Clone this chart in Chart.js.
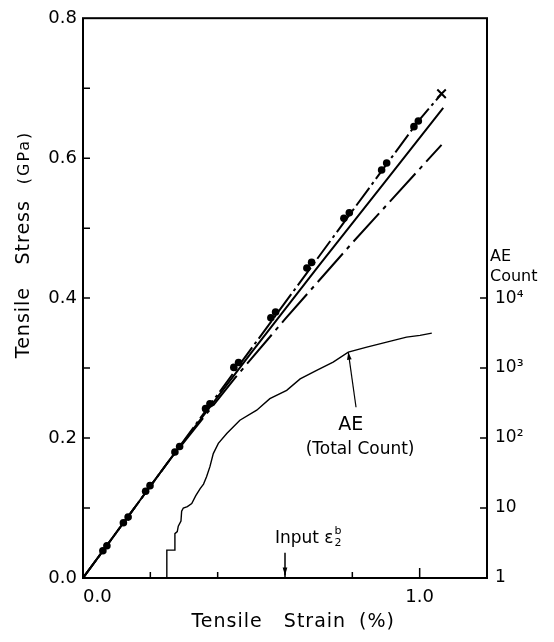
<!DOCTYPE html>
<html>
<head>
<meta charset="utf-8">
<script src="https://cdn.jsdelivr.net/npm/chart.js@4.4.1/dist/chart.umd.min.js"></script>
<style>
  html, body { margin: 0; padding: 0; background: #fff; }
  canvas { display: block; }
</style>
</head>
<body>
<canvas id="chart" width="554" height="642"></canvas>
<script>
// Strain in %, stress in GPa, AE in counts
const dotStrain = [0.059, 0.071, 0.120, 0.134, 0.186, 0.199, 0.273, 0.287, 0.364, 0.377, 0.448, 0.462,
                   0.558, 0.572, 0.665, 0.679, 0.775, 0.791, 0.887, 0.902, 0.983, 0.996];
const dotStress = [0.039, 0.046, 0.079, 0.087, 0.124, 0.132, 0.180, 0.188, 0.242, 0.249, 0.301, 0.308,
                   0.372, 0.380, 0.443, 0.451, 0.514, 0.522, 0.583, 0.593, 0.645, 0.653];

const lineAStrain = [0, 0.996, 1.065];
const lineAStress = [0, 0.653, 0.692];
const breakStrain = [1.065];
const breakStress = [0.692];

const lineBStrain = [0, 0.25, 0.5, 0.7, 0.9, 1.07];
const lineBStress = [0, 0.164, 0.322, 0.446, 0.568, 0.672];

const lineCStrain = [0, 0.25, 0.45, 0.6, 0.8, 1.065];
const lineCStress = [0, 0.164, 0.285, 0.37, 0.479, 0.619];

const aeStrain = [0.249, 0.249, 0.272, 0.273, 0.280, 0.283, 0.291, 0.293, 0.298, 0.310, 0.323, 0.335,
                  0.348, 0.358, 0.367, 0.377, 0.387, 0.402, 0.427, 0.466, 0.516, 0.555, 0.605, 0.645,
                  0.694, 0.743, 0.788, 0.843, 0.902, 0.961, 1.001, 1.036];
const aeCount  = [1, 2.5, 2.5, 4.3, 4.6, 5.5, 6.5, 9.0, 10, 10.5, 11.6, 15,
                  19, 22, 28, 39, 60, 84, 116, 180, 250, 365, 480, 700,
                  930, 1220, 1690, 1990, 2350, 2770, 2930, 3160];

// Ticks
const stressTicks = [0.1, 0.2, 0.3, 0.4, 0.5, 0.6, 0.7];
const strainTicks = [0.2, 0.4, 0.6, 0.8, 1.0];
const countTicks  = [1, 10, 100, 1000, 10000];
const countText   = ['1', '10', '10²', '10³', '10⁴'];

const FONT = 'DejaVu Sans';
Chart.defaults.font.family = FONT;
Chart.defaults.color = '#000';

const xy = (xs, ys) => xs.map((x, i) => ({ x, y: ys[i] }));
const font = size => `${size}px "${FONT}"`;

function arrow(ctx, x1, y1, x2, y2) {
  const ang = Math.atan2(y2 - y1, x2 - x1);
  ctx.beginPath();
  ctx.moveTo(x1, y1);
  ctx.lineTo(x2, y2);
  ctx.stroke();
  ctx.beginPath();
  ctx.moveTo(x2, y2);
  ctx.lineTo(x2 - 8 * Math.cos(ang - 0.3), y2 - 8 * Math.sin(ang - 0.3));
  ctx.lineTo(x2 - 8 * Math.cos(ang + 0.3), y2 - 8 * Math.sin(ang + 0.3));
  ctx.closePath();
  ctx.fill();
}

// frame, inward ticks, titles and notes
const extras = {
  id: 'extras',
  afterDraw(chart) {
    const { ctx, chartArea: a, scales: { x, y, y2 } } = chart;
    ctx.save();
    ctx.strokeStyle = '#000';
    ctx.fillStyle = '#000';

    ctx.lineWidth = 2;
    ctx.strokeRect(a.left, a.top, a.right - a.left, a.bottom - a.top);

    ctx.lineWidth = 1.5;
    ctx.beginPath();
    stressTicks.forEach(v => {
      const py = y.getPixelForValue(v);
      ctx.moveTo(a.left, py); ctx.lineTo(a.left + 7, py);
    });
    strainTicks.forEach(v => {
      const px = x.getPixelForValue(v);
      ctx.moveTo(px, a.bottom); ctx.lineTo(px, a.bottom - (v === 1 ? 10 : 6));
    });
    countTicks.slice(1).forEach(v => {
      const py = y2.getPixelForValue(v);
      ctx.moveTo(a.right, py); ctx.lineTo(a.right - 7, py);
    });
    ctx.stroke();

    ctx.textBaseline = 'middle';
    ctx.textAlign = 'center';
    ctx.letterSpacing = '1px';

    // left title, word by word
    ctx.save();
    ctx.translate(24, 0);
    ctx.rotate(-Math.PI / 2);
    ctx.font = font(19);
    ctx.fillText('Tensile', -y.getPixelForValue(0.365), 0);
    ctx.fillText('Stress', -y.getPixelForValue(0.494), 0);
    ctx.letterSpacing = '2px';
    ctx.font = font(16);
    ctx.fillText('(GPa)', -y.getPixelForValue(0.601), 1);
    ctx.letterSpacing = '1px';
    ctx.restore();

    // bottom title
    const ty = a.bottom + 44;
    ctx.font = font(19);
    ctx.fillText('Tensile', x.getPixelForValue(0.428), ty);
    ctx.fillText('Strain', x.getPixelForValue(0.689), ty);
    ctx.fillText('(%)', x.getPixelForValue(0.873), ty);
    ctx.letterSpacing = '0px';

    // right title
    const p4 = y2.getPixelForValue(10000);
    ctx.textAlign = 'left';
    ctx.font = font(16);
    ctx.fillText('AE', a.right + 3, p4 - 41);
    ctx.fillText('Count', a.right + 3, p4 - 21);

    // AE note
    ctx.textAlign = 'center';
    ctx.font = font(19);
    ctx.fillText('AE', x.getPixelForValue(0.795), y.getPixelForValue(0.218));
    ctx.font = font(17);
    ctx.fillText('(Total Count)', x.getPixelForValue(0.823), y.getPixelForValue(0.183));
    ctx.lineWidth = 1.2;
    arrow(ctx, x.getPixelForValue(0.811), y.getPixelForValue(0.244),
               x.getPixelForValue(0.788), y2.getPixelForValue(1690));

    // Input note
    ctx.textAlign = 'left';
    const ix = x.getPixelForValue(0.57), iy = y.getPixelForValue(0.057);
    ctx.font = font(17);
    ctx.fillText('Input', ix, iy);
    const wi = ctx.measureText('Input ').width;
    ctx.fillText('ε', ix + wi, iy);
    const we = ctx.measureText('ε').width;
    ctx.font = font(11);
    ctx.fillText('2', ix + wi + we + 1, iy + 5);
    ctx.fillText('b', ix + wi + we + 1, iy - 7);
    ctx.lineWidth = 1.5;
    arrow(ctx, x.getPixelForValue(0.6), y.getPixelForValue(0.036),
               x.getPixelForValue(0.6), y.getPixelForValue(0.004));

    ctx.restore();
  }
};

new Chart(document.getElementById('chart'), {
  type: 'scatter',
  data: {
    datasets: [
      { data: xy(lineAStrain, lineAStress), showLine: true, borderColor: '#000', borderWidth: 2,
        borderDash: [22, 4, 3, 4], pointRadius: 0 },
      { data: xy(dotStrain, dotStress), backgroundColor: '#000', borderWidth: 0, pointRadius: 3.8 },
      { data: xy(breakStrain, breakStress), pointStyle: 'crossRot', pointRadius: 6,
        borderColor: '#000', borderWidth: 2 },
      { data: xy(lineBStrain, lineBStress), showLine: true, borderColor: '#000', borderWidth: 2, pointRadius: 0 },
      { data: xy(lineCStrain, lineCStress), showLine: true, borderColor: '#000', borderWidth: 2,
        borderDash: [38, 6, 4, 6], pointRadius: 0 },
      { data: xy(aeStrain, aeCount), yAxisID: 'y2', showLine: true, borderColor: '#000',
        borderWidth: 1.4, pointRadius: 0 },
    ]
  },
  options: {
    responsive: false,
    animation: false,
    layout: { padding: { top: 16 } },
    plugins: { legend: { display: false }, tooltip: { enabled: false } },
    scales: {
      x: {
        type: 'linear', min: 0, max: 1.2,
        grid: { display: false, drawTicks: false },
        border: { display: false },
        ticks: {
          stepSize: 0.2, align: 'inner', padding: 9, maxRotation: 0, autoSkip: false,
          font: { size: 18 },
          callback: v => Math.abs(v) < 1e-9 ? '0.0' : Math.abs(v - 1) < 1e-9 ? '1.0' : ''
        },
        afterFit: s => { s.height = 64; }
      },
      y: {
        min: 0, max: 0.8,
        grid: { display: false, drawTicks: false },
        border: { display: false },
        ticks: { stepSize: 0.2, padding: 6, font: { size: 18 }, callback: v => v.toFixed(1) },
        afterFit: s => { s.width = 83; }
      },
      y2: {
        type: 'logarithmic', position: 'right', min: 1, max: 1e8,
        grid: { display: false, drawTicks: false },
        border: { display: false },
        afterBuildTicks: s => { s.ticks = countTicks.map(v => ({ value: v })); },
        ticks: {
          padding: 8, autoSkip: false, font: { size: 17 },
          callback: v => countText[countTicks.indexOf(v)] ?? ''
        },
        afterFit: s => { s.width = 67; }
      }
    }
  },
  plugins: [extras]
});
</script>
</body>
</html>
